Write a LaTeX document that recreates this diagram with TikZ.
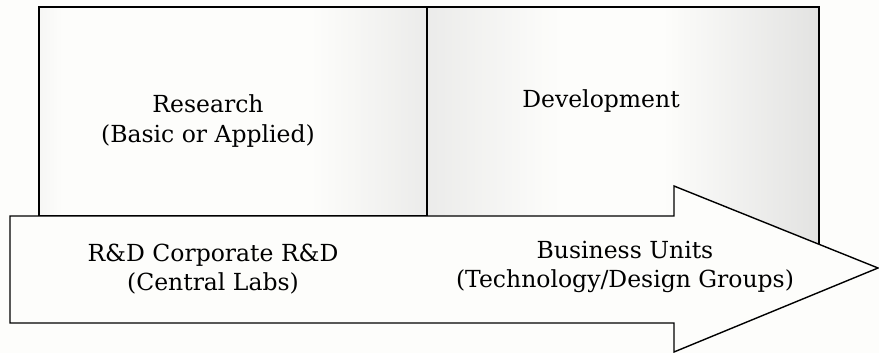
\documentclass[tikz,border=0pt]{standalone}
\usepackage{tikz}
\usepackage{fontspec}
\setmainfont{DejaVu Serif}
\usetikzlibrary{positioning,calc}

\definecolor{paper}{RGB}{253,253,251}
\pgfdeclarehorizontalshading{leftpanel}{100bp}{color(0bp)=(gray!50); color(28bp)=(paper); color(60bp)=(paper); color(100bp)=(gray!38)}
\pgfdeclarehorizontalshading{rightpanel}{100bp}{color(0bp)=(gray!36); color(42bp)=(paper); color(55bp)=(paper); color(100bp)=(gray!48)}

\begin{document}
\begin{tikzpicture}[x=1pt,y=-1pt,
  panel/.style={draw, line width=1.4pt},
  stage/.style={draw, line width=1.4pt, fill=paper, line join=miter},
  label/.style={align=center, inner sep=0pt, font=\fontsize{23.5}{29.5}\selectfont}]

\fill[paper] (0,0) rectangle (879,353);
\useasboundingbox (0,0) rectangle (879,353);

% the two phases
\shade[shading=leftpanel, panel] (39,7) rectangle (427,216);
\shade[shading=rightpanel, panel] (427,7) rectangle (819,280);

% arrow across both phases
\draw[stage] (10,216) -- (674,216) -- (674,186) -- (878,268) -- (674,352) -- (674,323) -- (10,323) -- cycle;

\node[label] at (208,121) (research) {Research\\(Basic or Applied)};
\node[label, anchor=base] at (601,107) (development) {Development};

\node[label] at (213,269) (central) {R\&D Corporate R\&D\\(Central Labs)};
\node[label] at (625,267) (units) {Business Units\\(Technology/Design Groups)};
\end{tikzpicture}
\end{document}
